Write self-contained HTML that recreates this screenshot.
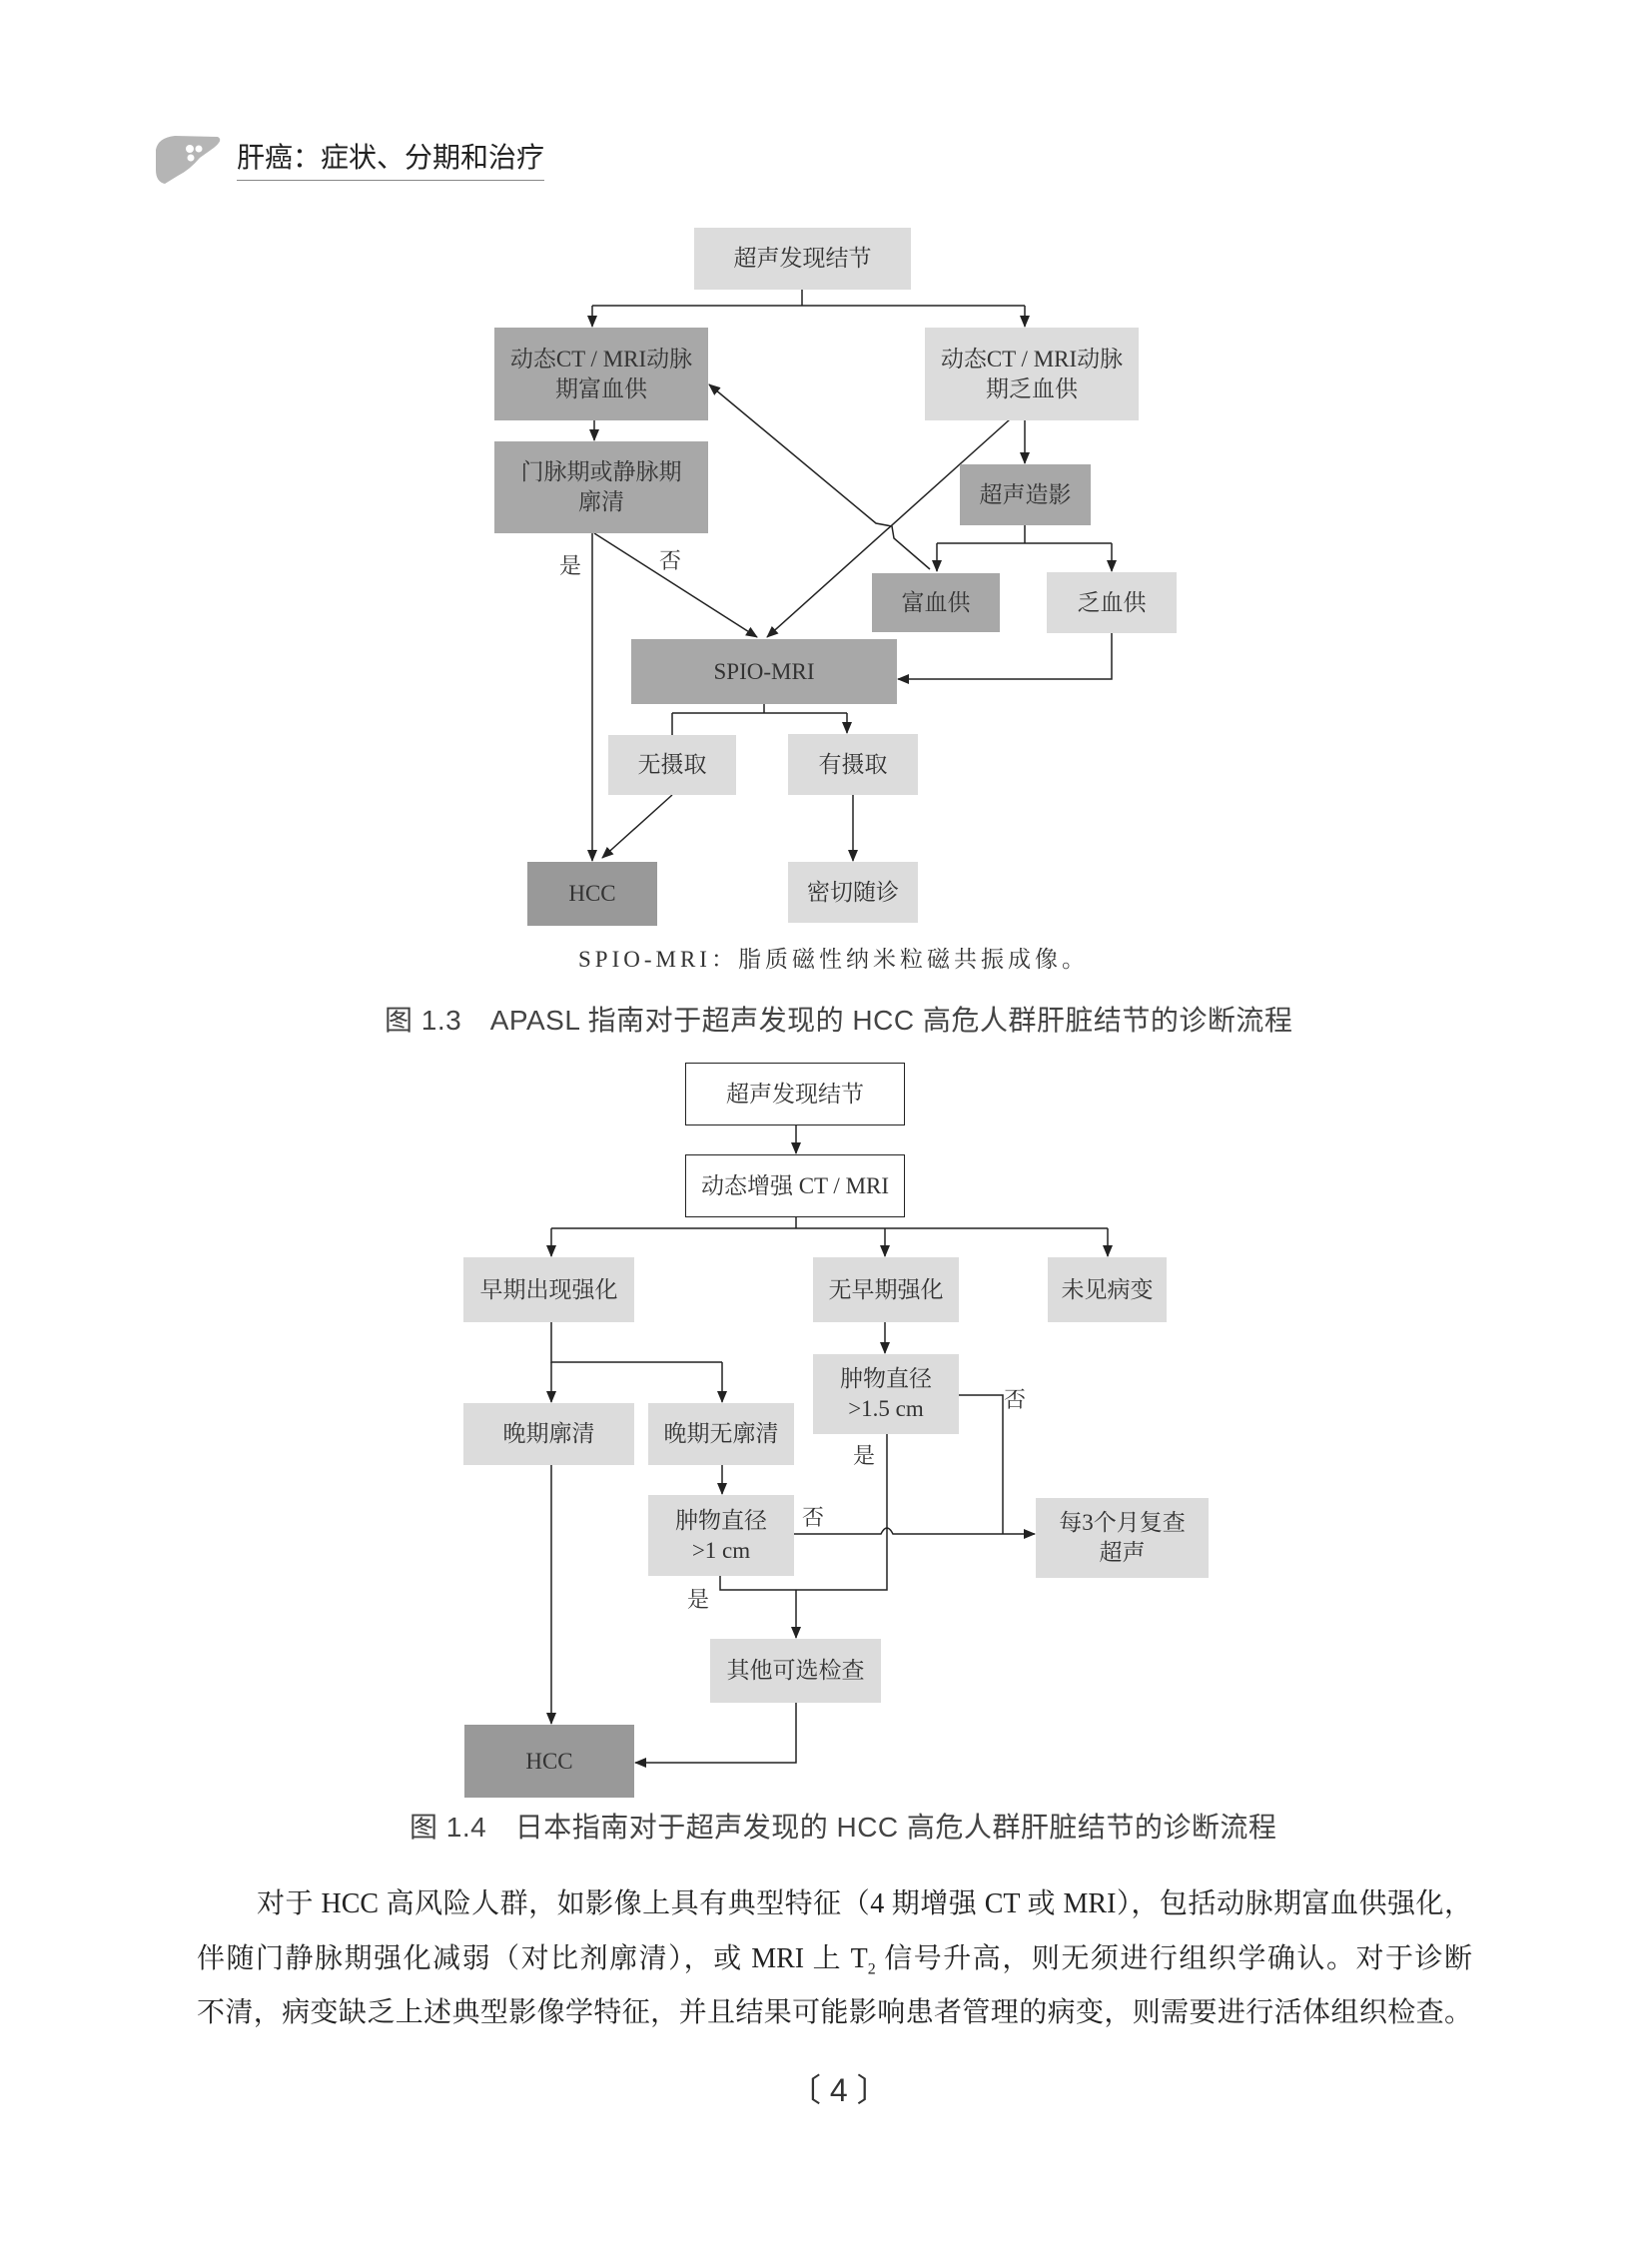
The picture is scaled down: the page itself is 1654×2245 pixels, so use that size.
<!DOCTYPE html>
<html><head><meta charset="utf-8">
<style>
html,body{margin:0;padding:0;background:#fff}
body{width:1654px;height:2245px;position:relative;overflow:hidden;font-family:"Liberation Serif","Noto Serif CJK SC",serif;color:#2a2a2a}
.b{position:absolute;display:flex;align-items:center;justify-content:center;text-align:center;font-size:23px;line-height:30px;color:#333}
.d{background:#a8a8a8}
.l{background:#dcdcdc}
.h{background:#999}
.w{background:#fff;border:1.5px solid #222;box-sizing:border-box}
.t{position:absolute;font-size:22px;color:#333;font-family:"Liberation Serif","Noto Serif CJK SC",serif}
.cap{position:absolute;font-family:"Liberation Sans","Noto Sans CJK SC",sans-serif;font-size:28px;color:#444;white-space:nowrap;letter-spacing:0.5px}
.p{position:absolute;left:197px;width:1277px;font-size:28px;line-height:34px;text-align:justify;text-align-last:justify;white-space:nowrap;font-family:"Liberation Serif","Noto Serif CJK SC",serif;color:#222}
svg{position:absolute;left:0;top:0}
</style></head><body>

<!-- header -->
<svg width="240" height="200" style="left:0;top:0">
<path d="M156 150 Q158 138 175 136 L218 137 Q224 140 214 148 L200 158 Q190 170 178 176 L165 184 Q156 182 156 170 Z" fill="#b5b5b5"/>
<circle cx="190" cy="149" r="4" fill="#fff"/><circle cx="199" cy="149" r="3.5" fill="#fff"/><circle cx="191" cy="158" r="3.5" fill="#fff"/>
</svg>
<div style="position:absolute;left:237px;top:136px;font-family:'Liberation Sans','Noto Sans CJK SC',sans-serif;font-size:28px;color:#222;white-space:nowrap">肝癌：症状、分期和治疗</div>
<div style="position:absolute;left:237px;top:180px;width:308px;height:1px;background:#888"></div>

<svg width="1654" height="2245">
<defs><marker id="a" markerWidth="12" markerHeight="10" refX="11" refY="5" orient="auto" markerUnits="userSpaceOnUse"><path d="M0,0 L12,5 L0,10 Z" fill="#222"/></marker></defs>
<g stroke="#222" stroke-width="1.5" fill="none">
<!-- fig1 -->
<path d="M803 290 V306 M593 306 H1026"/>
<path d="M593 306 V327" marker-end="url(#a)"/>
<path d="M1026 306 V327" marker-end="url(#a)"/>
<path d="M595 421 V441" marker-end="url(#a)"/>
<path d="M593 534 V862" marker-end="url(#a)"/>
<path d="M595 534 L758 638" marker-end="url(#a)"/>
<path d="M1011 420 L768 638" marker-end="url(#a)"/>
<path d="M1026 421 V464" marker-end="url(#a)"/>
<path d="M1026 526 V544 M938 544 H1113"/>
<path d="M938 544 V572" marker-end="url(#a)"/>
<path d="M1113 544 V572" marker-end="url(#a)"/>
<path d="M931 570 L895 539 L893 527 L877 524 L710 385" marker-end="url(#a)"/>
<path d="M1113 634 V680 H899" marker-end="url(#a)"/>
<path d="M765 705 V714 M673 714 H848 M673 714 V736"/>
<path d="M848 714 V734" marker-end="url(#a)"/>
<path d="M673 796 L603 859" marker-end="url(#a)"/>
<path d="M854 796 V862" marker-end="url(#a)"/>
<!-- fig2 -->
<path d="M797 1127 V1155" marker-end="url(#a)"/>
<path d="M797 1219 V1230 M552 1230 H1109"/>
<path d="M552 1230 V1258" marker-end="url(#a)"/>
<path d="M886 1230 V1258" marker-end="url(#a)"/>
<path d="M1109 1230 V1258" marker-end="url(#a)"/>
<path d="M552 1324 V1364 H723"/>
<path d="M552 1364 V1404" marker-end="url(#a)"/>
<path d="M723 1364 V1404" marker-end="url(#a)"/>
<path d="M723 1467 V1496" marker-end="url(#a)"/>
<path d="M886 1324 V1355" marker-end="url(#a)"/>
<path d="M960 1397 H1004 V1536"/>
<path d="M795 1536 H882 Q888 1524 894 1536 H1036" marker-end="url(#a)"/>
<path d="M888 1436 V1592 H721 V1578"/>
<path d="M797 1592 V1640" marker-end="url(#a)"/>
<path d="M552 1467 V1726" marker-end="url(#a)"/>
<path d="M797 1705 V1765 H636" marker-end="url(#a)"/>
</g>
</svg>

<!-- fig1 boxes -->
<div class="b l" style="left:695px;top:228px;width:217px;height:62px">超声发现结节</div>
<div class="b d" style="left:495px;top:328px;width:214px;height:93px">动态CT / MRI动脉<br>期富血供</div>
<div class="b l" style="left:926px;top:328px;width:214px;height:93px">动态CT / MRI动脉<br>期乏血供</div>
<div class="b d" style="left:495px;top:442px;width:214px;height:92px">门脉期或静脉期<br>廓清</div>
<div class="b d" style="left:961px;top:465px;width:131px;height:61px">超声造影</div>
<div class="b d" style="left:873px;top:574px;width:128px;height:59px">富血供</div>
<div class="b l" style="left:1048px;top:573px;width:130px;height:61px">乏血供</div>
<div class="b d" style="left:632px;top:640px;width:266px;height:65px">SPIO-MRI</div>
<div class="b l" style="left:609px;top:736px;width:128px;height:60px">无摄取</div>
<div class="b l" style="left:789px;top:735px;width:130px;height:61px">有摄取</div>
<div class="b h" style="left:528px;top:863px;width:130px;height:64px">HCC</div>
<div class="b l" style="left:789px;top:863px;width:130px;height:61px">密切随诊</div>
<div class="t" style="left:560px;top:550px">是</div>
<div class="t" style="left:660px;top:545px">否</div>
<div class="t" style="left:579px;top:942px;font-size:23px;letter-spacing:4px;white-space:nowrap">SPIO-MRI：脂质磁性纳米粒磁共振成像。</div>
<div class="cap" style="left:385px;top:1000px">图 1.3　APASL 指南对于超声发现的 HCC 高危人群肝脏结节的诊断流程</div>

<!-- fig2 boxes -->
<div class="b w" style="left:686px;top:1064px;width:220px;height:63px">超声发现结节</div>
<div class="b w" style="left:686px;top:1156px;width:220px;height:63px">动态增强 CT / MRI</div>
<div class="b l" style="left:464px;top:1259px;width:171px;height:65px">早期出现强化</div>
<div class="b l" style="left:814px;top:1259px;width:146px;height:65px">无早期强化</div>
<div class="b l" style="left:1049px;top:1259px;width:119px;height:65px">未见病变</div>
<div class="b l" style="left:464px;top:1405px;width:171px;height:62px">晚期廓清</div>
<div class="b l" style="left:649px;top:1405px;width:146px;height:62px">晚期无廓清</div>
<div class="b l" style="left:814px;top:1356px;width:146px;height:80px">肿物直径<br>&gt;1.5 cm</div>
<div class="b l" style="left:649px;top:1497px;width:146px;height:81px">肿物直径<br>&gt;1 cm</div>
<div class="b l" style="left:1037px;top:1500px;width:173px;height:80px">每3个月复查<br>超声</div>
<div class="b l" style="left:711px;top:1641px;width:171px;height:64px">其他可选检查</div>
<div class="b h" style="left:465px;top:1727px;width:170px;height:73px">HCC</div>
<div class="t" style="left:854px;top:1441px">是</div>
<div class="t" style="left:1005px;top:1385px">否</div>
<div class="t" style="left:803px;top:1503px">否</div>
<div class="t" style="left:688px;top:1585px">是</div>
<div class="cap" style="left:410px;top:1808px">图 1.4　日本指南对于超声发现的 HCC 高危人群肝脏结节的诊断流程</div>

<!-- paragraph -->
<div class="p" style="top:1890px;left:257px;width:1217px">对于 HCC 高风险人群，如影像上具有典型特征（4 期增强 CT 或 MRI），包括动脉期富血供强化，</div>
<div class="p" style="top:1945px">伴随门静脉期强化减弱（对比剂廓清），或 MRI 上 T<sub style="font-size:16px">2</sub> 信号升高，则无须进行组织学确认。对于诊断</div>
<div class="p" style="top:1999px">不清，病变缺乏上述典型影像学特征，并且结果可能影响患者管理的病变，则需要进行活体组织检查。</div>
<div style="position:absolute;left:790px;top:2068px;font-family:'Liberation Sans',sans-serif;font-size:32px;color:#333;white-space:nowrap">〔 4 〕</div>
</body></html>
